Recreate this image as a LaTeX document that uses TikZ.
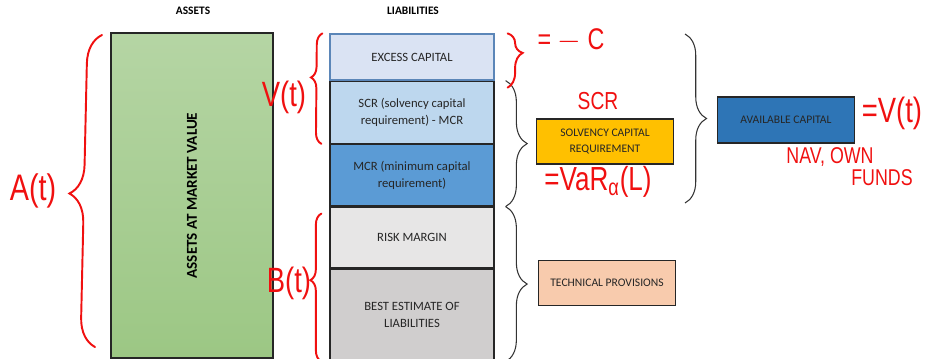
\documentclass[tikz,border=0pt]{standalone}
\usepackage{fontspec}
\setmainfont{Carlito}
\newfontfamily\handfont[FakeStretch=0.78]{Liberation Sans}
\usetikzlibrary{positioning}
\usetikzlibrary{decorations.pathreplacing}
\definecolor{assetTop}{HTML}{B5D5A4}
\definecolor{assetBottom}{HTML}{9CC784}
\definecolor{excessFill}{HTML}{DAE3F3}
\definecolor{excessLine}{HTML}{5B86B8}
\definecolor{scrFill}{HTML}{BDD7EE}
\definecolor{mcrFill}{HTML}{5B9BD5}
\definecolor{riskFill}{HTML}{E7E6E6}
\definecolor{bestFill}{HTML}{D0CECE}
\definecolor{solvFill}{HTML}{FFC000}
\definecolor{techFill}{HTML}{F8CBAD}
\definecolor{availFill}{HTML}{2E75B6}
\definecolor{boxText}{HTML}{262626}
\definecolor{penRed}{HTML}{F01010}
\tikzset{header/.style={font=\fontsize{6.5}{8}\selectfont\bfseries, text=black}}
\tikzset{sheetBox/.style={draw=black!85, line width=0.7pt, minimum width=32.8mm, inner sep=0pt, align=center, text=boxText, font=\fontsize{7.2}{9.5}\selectfont}}
\tikzset{sideBox/.style={draw=black!85, line width=0.7pt, minimum width=27.3mm, minimum height=9mm, inner sep=0pt, align=center, text=boxText, font=\fontsize{6.6}{9}\selectfont}}
\tikzset{blackBrace/.style={draw=black!80, line width=0.6pt, decorate, decoration={brace, amplitude=4.3mm}}}
\tikzset{redBrace/.style={draw=penRed, line width=1.1pt, line cap=round, decorate}}
\tikzset{penNote/.style={text=penRed, inner sep=0pt, font=\handfont}}

\begin{document}
\begin{tikzpicture}[x=0.2mm, y=-0.2mm]
\useasboundingbox (0,0) rectangle (926,359);

% column headings
\node[header] (assetsHead) at (193,11) {ASSETS};
\node[header] (liabHead) at (413,11) {LIABILITIES};

% assets column, text turned upwards
\node[draw=black!85, line width=0.7pt, minimum width=32.4mm, minimum height=65mm,
  top color=assetTop, bottom color=assetBottom] (assets) at (192,195.5) {};
\node[rotate=90, font=\fontsize{8.6}{10}\selectfont\bfseries] (assetsText) at (assets.center) {ASSETS AT MARKET VALUE};

% liabilities column
\node[sheetBox, fill=excessFill, draw=excessLine, minimum height=9.2mm] (excess) at (412,57) {EXCESS CAPITAL};
\node[sheetBox, fill=scrFill, minimum height=12.4mm, below=0pt of excess] (scr) {SCR (solvency capital\\requirement) - MCR};
\node[sheetBox, fill=mcrFill, minimum height=12.3mm, below=0pt of scr] (mcr) {MCR (minimum capital\\requirement)};
\node[sheetBox, fill=riskFill, minimum height=12.1mm, below=0pt of mcr] (risk) {RISK MARGIN};
\node[sheetBox, fill=bestFill, minimum height=18.4mm, below=0pt of risk] (best) {BEST ESTIMATE OF\\LIABILITIES};

% capital boxes on the right
\node[sideBox, fill=solvFill] (solv) at (605,141.5) {SOLVENCY CAPITAL\\REQUIREMENT};
\node[sideBox, fill=techFill] (tech) at (607,283) {TECHNICAL PROVISIONS};
\node[sideBox, fill=availFill, minimum height=9.2mm] (avail) at (786,120) {AVAILABLE CAPITAL};

% black braces
\coordinate (capTop) at (685,34);
\coordinate (capBot) at (685,203);
\draw[blackBrace] ([xshift=2.2mm]scr.north east) -- ([xshift=2.2mm]mcr.south east);
\draw[blackBrace] ([xshift=2.2mm]risk.north east) -- ([xshift=2.2mm]best.south east);
\draw[blackBrace] (capTop) -- (capBot);

% pen annotations
\coordinate (aTop) at (102,35);
\coordinate (aBot) at (95,347);
\draw[redBrace, decoration={brace, amplitude=5.8mm, aspect=0.49}] (aBot) -- (aTop);
\node[penNote, font=\handfont\fontsize{21}{21}\selectfont] (aLabel) at (33,191) {A(t)};

\draw[redBrace, decoration={brace, amplitude=2.2mm, aspect=0.6}] ([xshift=-1.6mm]mcr.north west) -- ([xshift=-1.4mm]excess.north west);
\node[penNote, font=\handfont\fontsize{20}{20}\selectfont] (vLabel) at (284,97) {V(t)};

\draw[redBrace, decoration={brace, amplitude=2.2mm, aspect=0.55}] ([xshift=-1.6mm]best.south west) -- ([xshift=-1.6mm,yshift=-1.4mm]risk.north west);
\node[penNote, font=\handfont\fontsize{20}{20}\selectfont] (bLabel) at (289,283) {B(t)};

\draw[redBrace, decoration={brace, amplitude=3mm, aspect=0.36}] ([xshift=2.6mm]excess.north east) -- ([xshift=2.6mm,yshift=-1.4mm]excess.south east);
\node[penNote, font=\handfont\fontsize{17}{17}\selectfont] (cLabel) at (571,40) {= $-$ C};

\node[penNote, font=\handfont\fontsize{14}{14}\selectfont] (scrLabel) at (598,101) {SCR};
\node[penNote, font=\handfont\fontsize{19}{19}\selectfont] (varLabel) at (598,182) {=VaR\textsubscript{α}(L)};
\node[penNote, font=\handfont\fontsize{20}{20}\selectfont] (vtLabel) at (892,113) {=V(t)};
\node[penNote, font=\handfont\fontsize{13}{13}\selectfont] (navLabel) at (830,157) {NAV, OWN};
\node[penNote, font=\handfont\fontsize{13}{13}\selectfont] (fundsLabel) at (882,178) {FUNDS};
\end{tikzpicture}
\end{document}
